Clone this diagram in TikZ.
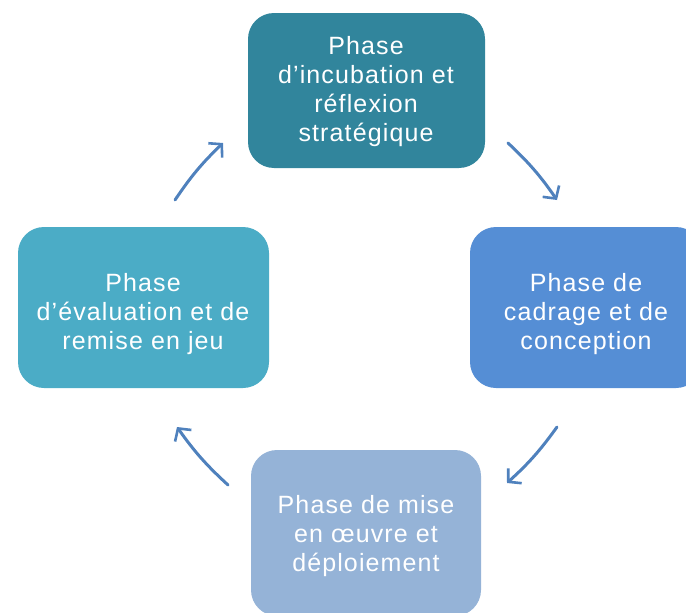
\documentclass[tikz,border=0pt]{standalone}
\usepackage{fontspec}
\setmainfont{Liberation Sans}
\newfontfamily\boxfont[LetterSpace=4.5]{Liberation Sans}
\usetikzlibrary{arrows.meta}
\definecolor{cTop}{RGB}{49,133,156}
\definecolor{cRight}{RGB}{85,142,213}
\definecolor{cBottom}{RGB}{149,179,215}
\definecolor{cLeft}{RGB}{75,172,198}
\definecolor{cArrow}{RGB}{79,129,189}
\tikzset{
  phasebox/.style={rounded corners=26pt, inner sep=0pt, text=white, align=center,
    font=\boxfont\fontsize{25}{28.5}\selectfont},
  phasetext/.style={text=white, align=center, font=\boxfont\fontsize{25}{29}\selectfont},
  cyclearrow/.style={draw=cArrow, line width=3pt, line cap=round,
    -{Straight Barb[length=9pt,width=20pt,line width=2.6pt]}}
}
\begin{document}
\begin{tikzpicture}[x=1pt,y=-1pt]
\useasboundingbox (0,0) rectangle (686,613);
\clip (0,0) rectangle (686,613);
\node[phasebox, fill=cTop, minimum width=237pt, minimum height=155pt] (top) at (366.5,90.5) {};
\node[phasetext] (toptext) at (366,92)
  {Phase\\d’incubation et\\réflexion\\stratégique};
\node[phasebox, fill=cRight, minimum width=232pt, minimum height=161pt] (right) at (586,307.5) {};
\node[phasetext] (righttext) at (586,314.5)
  {Phase de\\cadrage et de\\conception};
\node[phasebox, fill=cBottom, minimum width=230pt, minimum height=166pt] (bottom) at (366,533) {};
\node[phasetext] (bottomtext) at (366,536)
  {Phase de mise\\en œuvre et\\déploiement};
\node[phasebox, fill=cLeft, minimum width=251pt, minimum height=161pt] (left) at (143.5,307.5) {};
\node[phasetext] (lefttext) at (143,314)
  {Phase\\d’évaluation et de\\remise en jeu};
\coordinate (a1s) at (175,200);
\coordinate (a1e) at (223,143);
\coordinate (a2s) at (508,143);
\coordinate (a2e) at (557,200);
\coordinate (a3s) at (557,427);
\coordinate (a3e) at (507,483);
\coordinate (a4s) at (228,485);
\coordinate (a4e) at (177,427);
\draw[cyclearrow] (a1s) to[bend left=6] (a1e);
\draw[cyclearrow] (a2s) to[bend left=6] (a2e);
\draw[cyclearrow] (a3s) to[bend left=6] (a3e);
\draw[cyclearrow] (a4s) to[bend left=6] (a4e);
\end{tikzpicture}
\end{document}
